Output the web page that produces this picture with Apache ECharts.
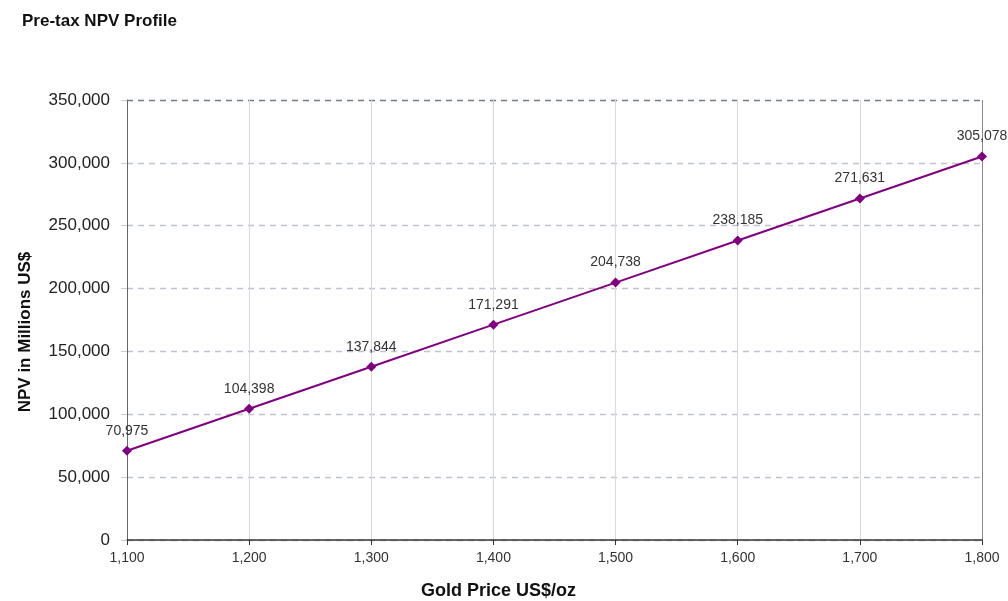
<!DOCTYPE html>
<html><head><meta charset="utf-8">
<script src="https://cdn.jsdelivr.net/npm/echarts@6/dist/echarts.min.js"></script>
<style>html,body{margin:0;padding:0;background:#fff}#c{width:1008px;height:601px}</style>
</head><body><div id="c"></div>
<script>
const goldPrices = [1100, 1200, 1300, 1400, 1500, 1600, 1700, 1800];
const npvValues = [70975, 104398, 137844, 171291, 204738, 238185, 271631, 305078];
const title = 'Pre-tax NPV Profile';
const xTitle = 'Gold Price US$/oz';
const yTitle = 'NPV in Millions US$';

const fmt = v => Number(v).toLocaleString('en-US');
const FF = 'Liberation Sans, Arial';
const chart = echarts.init(document.getElementById('c'));
chart.setOption({
  animation: false,
  backgroundColor: '#fff',
  title: {text: title, left: 17, top: 8, textStyle: {fontFamily: FF, fontSize: 17, fontWeight: 'bold', color: '#111'}},
  grid: {left: 127, right: 26, top: 100, bottom: 61, containLabel: false, outerBoundsMode: 'none'},
  xAxis: {
    type: 'value', min: 1100, max: 1800, interval: 100,
    name: xTitle, nameLocation: 'middle', nameGap: 42,
    nameTextStyle: {fontFamily: FF, fontSize: 18, fontWeight: 'bold', color: '#111', padding: [0, 112, 0, 0]},
    axisLine: {show: true, onZero: false, lineStyle: {color: '#333', width: 1.5}},
    axisTick: {show: true, length: 5, lineStyle: {color: '#333'}},
    axisLabel: {fontFamily: FF, fontSize: 14, color: '#333', margin: 11, formatter: v => fmt(v)},
    splitLine: {show: true, lineStyle: {color: ['#d9d9d9','#d9d9d9','#d9d9d9','#d9d9d9','#d9d9d9','#d9d9d9','#d9d9d9','#888'], width: 1}}
  },
  yAxis: {
    type: 'value', min: 0, max: 350000, interval: 50000,
    name: yTitle, nameLocation: 'middle', nameGap: 93,
    nameTextStyle: {fontFamily: FF, fontSize: 17, fontWeight: 'bold', color: '#111', padding: [0, 24, 0, 0]},
    axisLine: {show: true, lineStyle: {color: '#666', width: 1}},
    axisTick: {show: true, length: 6, lineStyle: {color: '#ccc'}},
    axisLabel: {fontFamily: FF, fontSize: 17, color: '#222', margin: 17, formatter: v => fmt(v)},
    splitLine: {show: true, lineStyle: {type: [6, 5], color: ['#bcc4d2','#bcc4d2','#bcc4d2','#bcc4d2','#bcc4d2','#bcc4d2','#bcc4d2','#6f7a8c'], width: 1.3}}
  },
  series: [{
    type: 'line',
    data: goldPrices.map((p, i) => [p, npvValues[i]]),
    symbol: 'diamond', symbolSize: 10,
    lineStyle: {color: '#800080', width: 2},
    itemStyle: {color: '#800080'},
    label: {show: true, position: 'top', distance: 8, fontFamily: FF, fontSize: 14, color: '#333', formatter: p => fmt(p.value[1])}
  }]
});
</script></body></html>
